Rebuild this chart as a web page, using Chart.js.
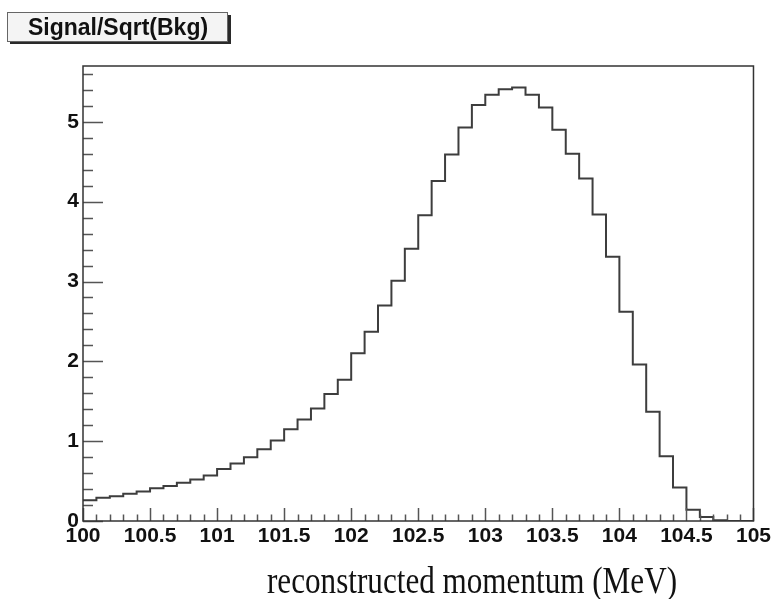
<!DOCTYPE html>
<html>
<head>
<meta charset="utf-8">
<script src="https://cdn.jsdelivr.net/npm/chart.js@4.4.1/dist/chart.umd.min.js"></script>
<style>
html,body{margin:0;padding:0;background:#ffffff;}
#wrap{position:relative;width:774px;height:599px;}
</style>
</head>
<body>
<div id="wrap"><canvas id="c" width="774" height="599"></canvas></div>
<script>
// ---- data ----
const binEdges = [
  100.0,100.1,100.2,100.3,100.4,100.5,100.6,100.7,100.8,100.9,
  101.0,101.1,101.2,101.3,101.4,101.5,101.6,101.7,101.8,101.9,
  102.0,102.1,102.2,102.3,102.4,102.5,102.6,102.7,102.8,102.9,
  103.0,103.1,103.2,103.3,103.4,103.5,103.6,103.7,103.8,103.9,
  104.0,104.1,104.2,104.3,104.4,104.5,104.6,104.7,104.8,104.9,
  105.0
];
const signalOverSqrtBkg = [
  0.26,0.29,0.31,0.34,0.37,0.41,0.44,0.48,0.52,0.57,
  0.65,0.72,0.80,0.90,1.01,1.15,1.27,1.41,1.59,1.77,
  2.10,2.37,2.70,3.01,3.41,3.83,4.26,4.59,4.93,5.21,
  5.34,5.41,5.43,5.34,5.18,4.90,4.60,4.29,3.84,3.31,
  2.62,1.96,1.37,0.81,0.42,0.14,0.05,0.01,0.00,0.00
];
const xTickLabels = ['100','100.5','101','101.5','102','102.5','103','103.5','104','104.5','105'];
const yTickLabels = ['0','1','2','3','4','5'];
const chartTitle = 'Signal/Sqrt(Bkg)';
const xAxisTitle = 'reconstructed momentum (MeV)';

// histogram outline points: one per bin low edge, plus the last high edge
const histPoints = signalOverSqrtBkg.map((v, i) => ({x: binEdges[i], y: v}));
histPoints.push({x: binEdges[binEdges.length - 1], y: signalOverSqrtBkg[signalOverSqrtBkg.length - 1]});

function labelFor(list, v) {
  const f = list.find(l => Math.abs(parseFloat(l) - v) < 1e-6);
  return f === undefined ? '' : f;
}

const decorations = {
  id: 'decorations',
  afterDatasetsDraw(chart) {
    const ctx = chart.ctx;
    const xs = chart.scales.x, ys = chart.scales.y;
    const a = chart.chartArea;
    ctx.save();
    // inward tick marks
    ctx.strokeStyle = '#555';
    ctx.lineWidth = 1.5;
    ctx.beginPath();
    for (let k = 0; k <= 50; k++) {
      const v = xs.min + k * 0.1;
      const px = Math.round(xs.getPixelForValue(v)) + 0.5;
      const len = (k % 5 === 0) ? 13 : 6.5;
      ctx.moveTo(px, a.bottom);
      ctx.lineTo(px, a.bottom - len);
    }
    for (let k = 0; k * 0.2 <= ys.max + 1e-9; k++) {
      const v = k * 0.2;
      const py = Math.round(ys.getPixelForValue(v)) + 0.5;
      const len = (k % 5 === 0) ? 20 : 10;
      ctx.moveTo(a.left, py);
      ctx.lineTo(a.left + len, py);
    }
    ctx.stroke();
    // frame
    ctx.strokeStyle = '#333';
    ctx.lineWidth = 1.5;
    ctx.strokeRect(a.left, a.top, a.right - a.left, a.bottom - a.top);
    ctx.restore();
  },
  afterDraw(chart) {
    const ctx = chart.ctx;
    ctx.save();
    // title pave with shadow
    ctx.fillStyle = '#2a2a2a';
    ctx.fillRect(10, 15, 221, 29);
    ctx.fillStyle = '#f4f4f4';
    ctx.fillRect(7, 12, 221, 30);
    ctx.strokeStyle = '#666';
    ctx.lineWidth = 1;
    ctx.strokeRect(7.5, 12.5, 220, 29);
    ctx.fillStyle = '#111';
    ctx.font = 'bold 23px "Liberation Sans", Arial, sans-serif';
    ctx.textAlign = 'center';
    ctx.textBaseline = 'alphabetic';
    ctx.fillText(chartTitle, 118, 34.5);
    // x axis title
    ctx.font = '37px "Liberation Serif", "Times New Roman", serif';
    ctx.textAlign = 'left';
    ctx.fillStyle = '#111';
    ctx.fillText(xAxisTitle, 267, 593, 410);
    ctx.restore();
  }
};

new Chart(document.getElementById('c'), {
  type: 'line',
  data: {
    datasets: [{
      label: chartTitle,
      data: histPoints,
      stepped: true,
      borderColor: '#3d3d3d',
      borderWidth: 2,
      pointRadius: 0,
      fill: false,
      tension: 0
    }]
  },
  options: {
    responsive: false,
    animation: false,
    devicePixelRatio: 1,
    layout: {padding: {left: 0, right: 16, top: 66, bottom: 0}},
    plugins: {legend: {display: false}, tooltip: {enabled: false}, title: {display: false}},
    scales: {
      x: {
        type: 'linear',
        min: 100, max: 105,
        grid: {display: false, drawTicks: false},
        border: {display: false},
        ticks: {
          stepSize: 0.5,
          autoSkip: false,
          maxRotation: 0, minRotation: 0,
          padding: 3,
          color: '#111',
          font: {family: '"Liberation Sans", Arial, sans-serif', size: 21, weight: 'bold'},
          callback: (v) => labelFor(xTickLabels, v)
        },
        afterFit(scale) { scale.height = 78; }
      },
      y: {
        type: 'linear',
        min: 0, max: 5.7,
        grid: {display: false, drawTicks: false},
        border: {display: false},
        ticks: {
          stepSize: 1,
          includeBounds: false,
          padding: 4,
          color: '#111',
          font: {family: '"Liberation Sans", Arial, sans-serif', size: 21, weight: 'bold'},
          callback: (v) => labelFor(yTickLabels, v)
        },
        afterFit(scale) { scale.width = 83; }
      }
    }
  },
  plugins: [decorations]
});
</script>
</body>
</html>
